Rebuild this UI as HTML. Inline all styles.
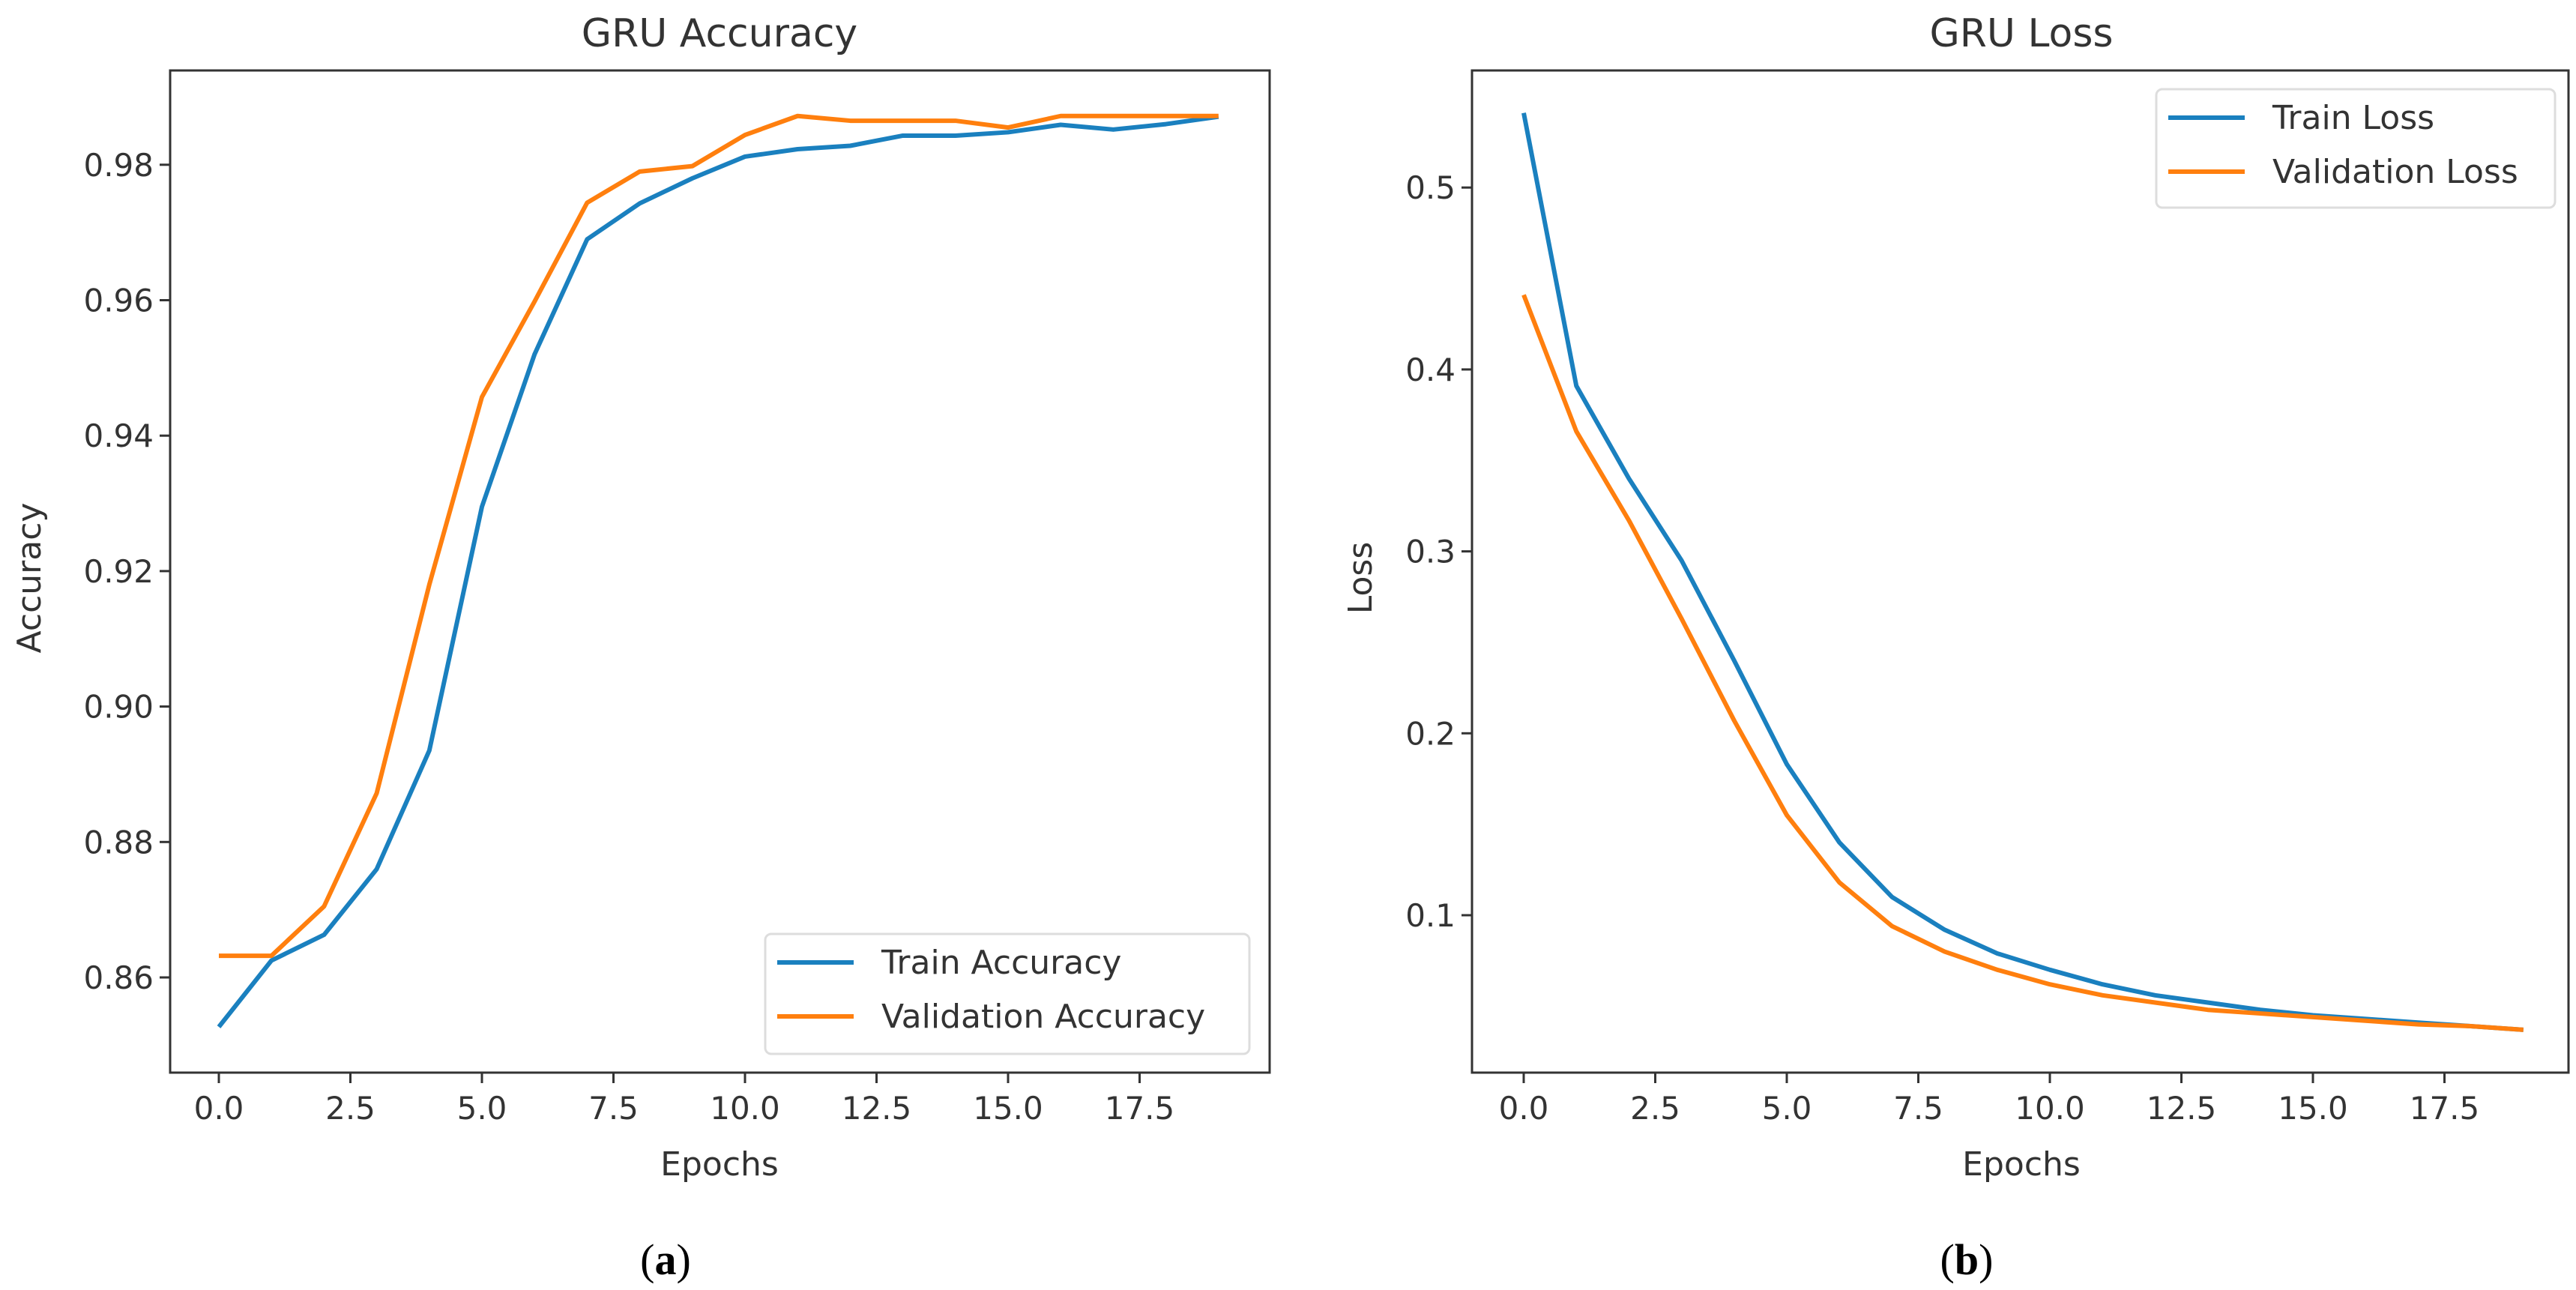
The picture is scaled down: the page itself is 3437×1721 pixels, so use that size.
<!DOCTYPE html>
<html><head><meta charset="utf-8"><style>
html,body{margin:0;padding:0;background:#fff;}
svg{display:block;font-family:"DejaVu Sans","Liberation Sans",sans-serif;}
</style></head><body>
<svg id="fig" width="3437" height="1721" viewBox="0 0 3437 1721"></svg>
<script>
const epochs=[0,1,2,3,4,5,6,7,8,9,10,11,12,13,14,15,16,17,18,19];
const accTrain=[0.8527,0.8625,0.8663,0.876,0.8935,0.9295,0.952,0.969,0.9743,0.978,0.9812,0.9823,0.9828,0.9843,0.9843,0.9848,0.9859,0.9852,0.9860,0.9871];
const accVal=[0.8632,0.8632,0.8705,0.8872,0.918,0.9457,0.9598,0.9744,0.979,0.9798,0.9844,0.9872,0.9865,0.9865,0.9865,0.9855,0.9872,0.9872,0.9872,0.9872];
const lossTrain=[0.541,0.391,0.34,0.295,0.24,0.183,0.14,0.11,0.092,0.079,0.07,0.062,0.056,0.052,0.048,0.045,0.043,0.041,0.039,0.037];
const lossVal=[0.441,0.366,0.317,0.263,0.207,0.155,0.118,0.094,0.080,0.070,0.062,0.056,0.052,0.048,0.046,0.044,0.042,0.040,0.039,0.037];
const xTicks=[0,2.5,5,7.5,10,12.5,15,17.5];
const xTickLabels=["0.0","2.5","5.0","7.5","10.0","12.5","15.0","17.5"];
const accTicks=[0.86,0.88,0.90,0.92,0.94,0.96,0.98];
const accTickLabels=["0.86","0.88","0.90","0.92","0.94","0.96","0.98"];
const lossTicks=[0.1,0.2,0.3,0.4,0.5];
const lossTickLabels=["0.1","0.2","0.3","0.4","0.5"];

const NS="http://www.w3.org/2000/svg";
const svg=document.getElementById('fig');
function el(tag,attrs,parent,text){const e=document.createElementNS(NS,tag);for(const k in attrs)e.setAttribute(k,attrs[k]);if(text!==undefined)e.textContent=text;(parent||svg).appendChild(e);return e;}
const BLUE="#1a80bf",ORANGE="#ff7f0e",TXT="#333";

function panel(o){
  const g=el('g',{});
  
  
  const xs=v=>o.x0+(v-0)*o.xu;
  const ys=v=>o.yRef+(o.vRef-v)*o.yu;
  const t=el('text',{x:o.titleX,y:62,'font-size':52,'text-anchor':'middle',fill:TXT},g,o.title);
  
  xTicks.forEach((v,i)=>{
    const x=xs(v);
    const tk=el('line',{x1:x,x2:x,y1:o.box[3],y2:o.box[3]+14,stroke:TXT,'stroke-width':3},g);
    
    const lb=el('text',{x:x,y:o.box[3]+62,'font-size':42,'text-anchor':'middle',fill:TXT},g,xTickLabels[i]);
    
  });
  o.yTicks.forEach((v,i)=>{
    const y=ys(v);
    const tk=el('line',{x1:o.box[0]-14,x2:o.box[0],y1:y,y2:y,stroke:TXT,'stroke-width':3},g);
    
    const lb=el('text',{x:o.box[0]-22,y:y+15,'font-size':42,'text-anchor':'end',fill:TXT},g,o.yLabels[i]);
    
  });
  const xl=el('text',{x:o.titleX,y:1568,'font-size':44,'text-anchor':'middle',fill:TXT},g,'Epochs');
  
  const yl=el('text',{x:0,y:0,'font-size':44,'text-anchor':'middle',fill:TXT,transform:`translate(${o.yLabelX},771) rotate(-90)`},g,o.yTitle);
  
  [[o.s1,BLUE,'train-line'],[o.s2,ORANGE,'validation-line']].forEach(([s,c,n])=>{
    const p=el('polyline',{points:s.map((v,i)=>xs(epochs[i])+','+ys(v)).join(' '),fill:'none',stroke:c,'stroke-width':6,'stroke-linejoin':'round'},g);
    
  });
  const fr=el('rect',{x:o.box[0],y:o.box[1],width:o.box[2]-o.box[0],height:o.box[3]-o.box[1],fill:'none',stroke:TXT,'stroke-width':3},g);
  
  const L=o.leg;
  const lg=el('g',{},g);
  
  el('rect',{x:L[0],y:L[1],width:L[2]-L[0],height:L[3]-L[1],rx:8,fill:'#fff',stroke:'#ddd','stroke-width':3},lg);
  [[o.n1,BLUE,0],[o.n2,ORANGE,1]].forEach(([n,c,k])=>{
    const y=L[1]+38+k*72;
    const ln=el('line',{x1:L[0]+16,x2:L[0]+118,y1:y,y2:y,stroke:c,'stroke-width':6},lg);
    
    const tx=el('text',{x:L[0]+155,y:y+15,'font-size':44,fill:TXT},lg,n);
    
  });
  const cap=el('text',{x:o.capX,y:1700,'font-size':58,'text-anchor':'middle',fill:'#000','font-family':'"Liberation Serif",serif'},g);
  
  el('tspan',{},cap,'(');el('tspan',{'font-weight':'bold'},cap,o.cap);el('tspan',{},cap,')');
}
panel({name:'accuracy-chart',title:'GRU Accuracy',titleX:960,box:[227,94,1694,1431],x0:292,xu:70.2,yRef:1304,vRef:0.86,yu:180.7/0.02,
  yTicks:accTicks,yLabels:accTickLabels,yTitle:'Accuracy',yLabelX:54,s1:accTrain,s2:accVal,n1:'Train Accuracy',n2:'Validation Accuracy',
  leg:[1021,1246,1667,1406],capX:888,cap:'a'});
panel({name:'loss-chart',title:'GRU Loss',titleX:2697,box:[1964,94,3427,1431],x0:2033,xu:70.2,yRef:1221,vRef:0.1,yu:242.7/0.1,
  yTicks:lossTicks,yLabels:lossTickLabels,yTitle:'Loss',yLabelX:1830,s1:lossTrain,s2:lossVal,n1:'Train Loss',n2:'Validation Loss',
  leg:[2877,119,3409,277],capX:2624,cap:'b'});
</script>
</body></html>
